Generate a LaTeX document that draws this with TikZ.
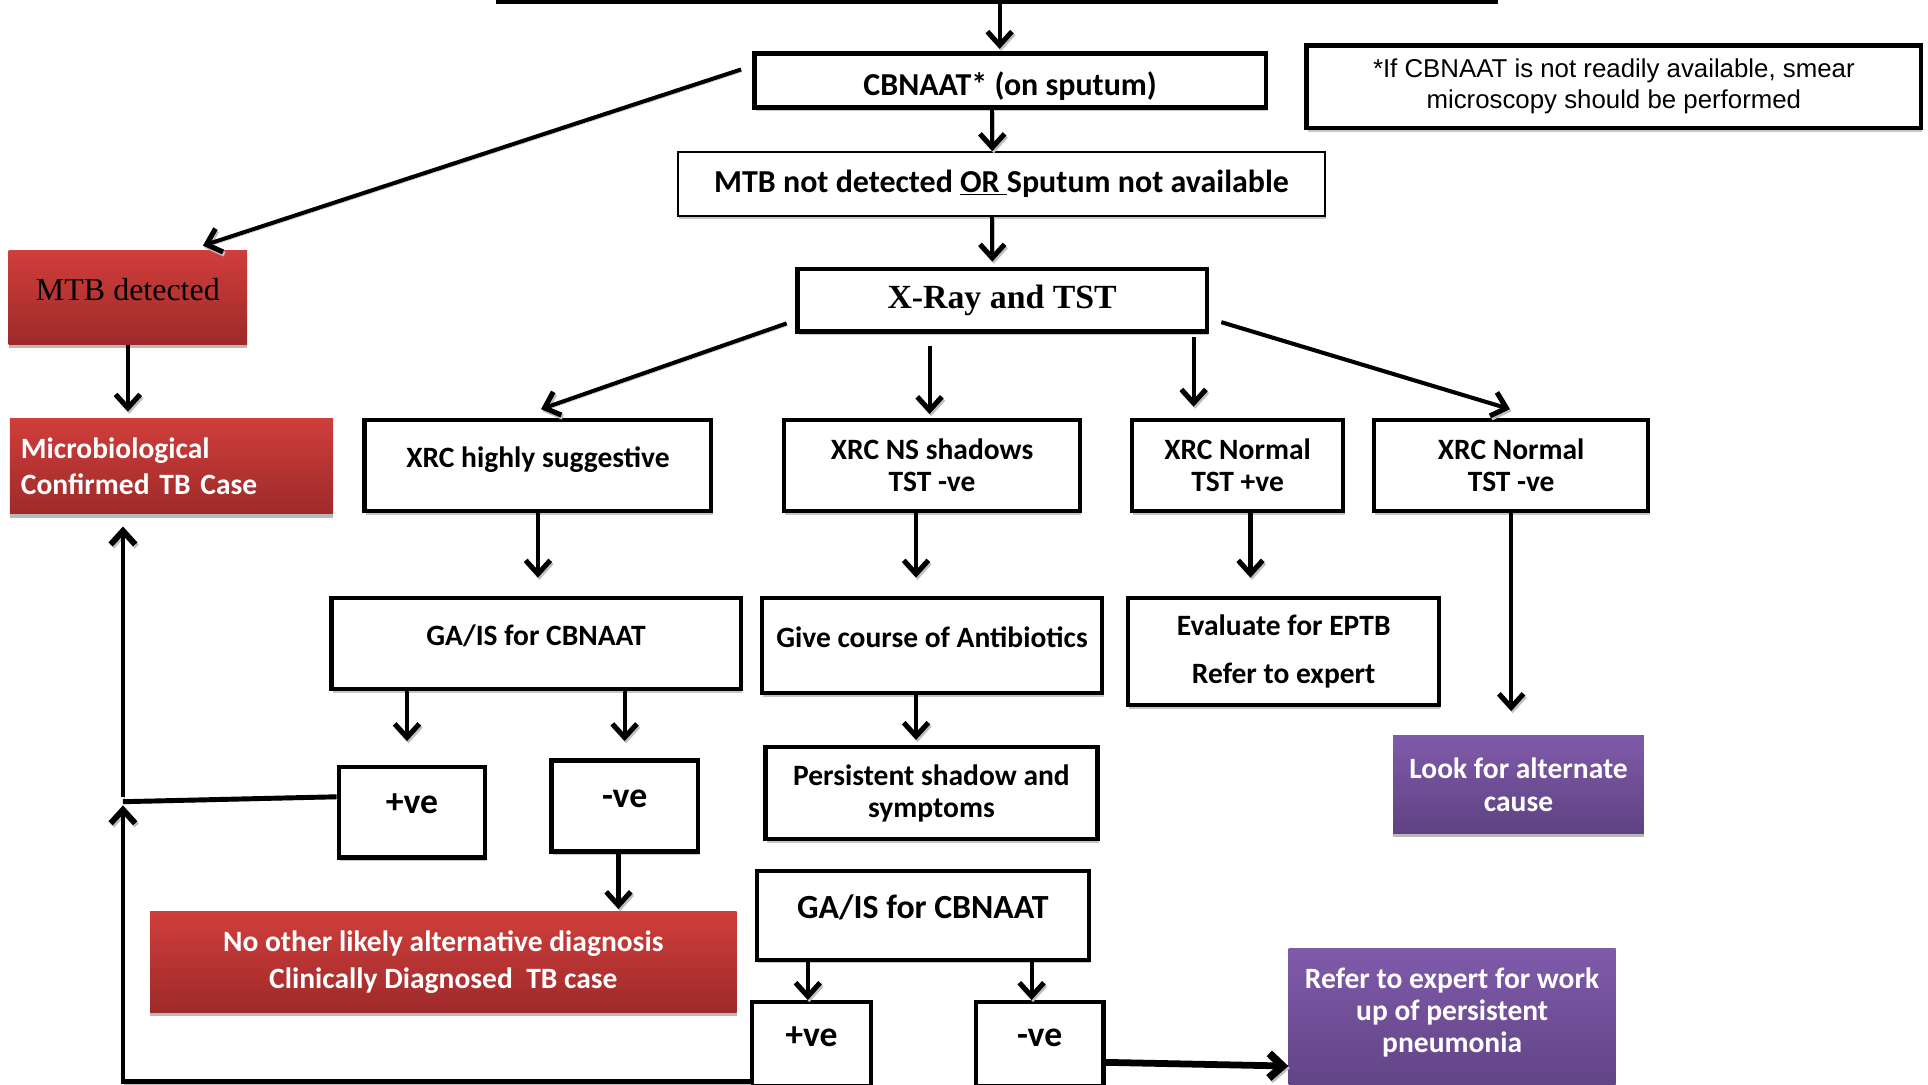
\documentclass[tikz,border=0pt]{standalone}
\usepackage{fontspec}
\setmainfont{Carlito}
\newfontfamily\cambriaf{Liberation Serif}
\newfontfamily\arialf{Liberation Sans}
\usetikzlibrary{arrows.meta, calc, shadows}

\definecolor{redtop}{RGB}{207,62,59}
\definecolor{redbot}{RGB}{158,42,42}
\definecolor{purtop}{RGB}{128,90,170}
\definecolor{purbot}{RGB}{94,66,130}

\tikzset{
  sz/.style 2 args={minimum width=#1pt, minimum height=#2pt},
  lift/.style={text height=#1pt, text depth=0pt},
  box/.style={draw, line width=3.5pt, fill=white, inner sep=0pt, align=center,
    font=\bfseries\fontsize{24}{26}\selectfont,
    drop shadow={shadow xshift=1pt, shadow yshift=-3pt, fill=gray!45, opacity=1}},
  thinbox/.style={box, line width=1.2pt, font=\bfseries\fontsize{26}{28}\selectfont},
  redbox/.style={top color=redtop, bottom color=redbot, draw=none, inner sep=0pt,
    align=center, text=white, font=\bfseries\fontsize{24}{30}\selectfont,
    drop shadow={shadow xshift=0pt, shadow yshift=-3pt, fill=gray!55, opacity=1}},
  purplebox/.style={redbox, top color=purtop, bottom color=purbot,
    font=\bfseries\fontsize{24}{26.5}\selectfont},
  bigtxt/.style={font=\bfseries\fontsize{29}{30}\selectfont, lift=2.6},
  arr/.style={line width=3.3pt, -{Straight Barb[length=11pt, width=20pt, line width=0.8pt 1]},
    preaction={draw=gray!50, transform canvas={shift={(1.2pt,-1.8pt)}}}},
  loopline/.style={line width=4pt,
    preaction={draw=gray!50, transform canvas={shift={(1.2pt,-1.8pt)}}}},
}

\begin{document}
\begin{tikzpicture}[x=1pt, y=-1pt]
  \useasboundingbox (0,0) rectangle (1568,882);
  \clip (0,0) rectangle (1568,882);

  % box above, cut off
  \coordinate (topL) at (403,1.5);
  \coordinate (topR) at (1218,1.5);
  \draw[line width=3.5pt] (topL) -- (topR);

  % top column
  \node[box, sz={416}{44}, lift=24.8, font=\bfseries\fontsize{26}{28}\selectfont] (cbnaat) at (821.5,65.5) {CBNAAT* (on sputum)};
  \node[box, sz={500}{67}, font=\arialf\fontsize{21}{25}\selectfont] (note) at (1312.5,70.5)
    {*If CBNAAT is not readily available, smear\\microscopy should be performed};
  \node[thinbox, sz={526}{52}] (notdet) at (814.5,149.5) {MTB not detected \underline{OR\ }Sputum not available};
  \node[box, sz={333}{51}, font=\cambriaf\bfseries\fontsize{27.5}{30}\selectfont] (xray) at (815,244) {X-Ray and TST};

  % microbiological branch
  \node[redbox, sz={194}{76}, lift=5.2, text=black, font=\cambriaf\fontsize{26}{28}\selectfont] (mtbdet) at (104,242) {MTB detected};
  \node[redbox, sz={263}{78}, align=left, text width=245pt, font=\bfseries\fontsize{24}{29}\selectfont] (micro) at (139.5,379)
    {Microbiological\\Confirmed TB Case};

  % x-ray results
  \node[box, sz={282}{74}, lift=3.4] (xrchigh) at (437.5,378.5) {XRC highly suggestive};
  \node[box, sz={241}{74}] (xrcns) at (758,378.5) {XRC NS shadows\\TST -ve};
  \node[box, sz={172}{74}] (xrcpos) at (1006.5,378.5) {XRC Normal\\TST +ve};
  \node[box, sz={223}{74}] (xrcneg) at (1229,378.5) {XRC Normal\\TST -ve};

  % third row
  \node[box, sz={333}{74}, lift=2.4] (gais) at (436,523.5) {GA/IS for CBNAAT};
  \node[box, sz={277}{77}, lift=3.4] (course) at (758,525) {Give course of Antibiotics};
  \node[box, sz={253}{87}, font=\bfseries\fontsize{24}{39}\selectfont] (eptb) at (1044,530) {Evaluate for EPTB\\Refer to expert};
  \node[purplebox, sz={204}{79}] (altcause) at (1235,638) {Look for alternate\\cause};

  % results of GA/IS
  \node[box, bigtxt, sz={119}{74}] (pos) at (335,660.5) {+ve};
  \node[box, bigtxt, sz={119}{74}] (neg) at (508,655.5) {-ve};
  \node[box, sz={270}{75}] (persist) at (757.5,645) {Persistent shadow and\\symptoms};
  \node[redbox, sz={477}{82}] (clinical) at (360.5,782.5)
    {No other likely alternative diagnosis\\Clinically Diagnosed\ \ TB case};

  % second GA/IS
  \node[box, sz={270}{72}, lift=4.8, font=\bfseries\fontsize{27.5}{30}\selectfont] (gais2) at (750.5,744.5) {GA/IS for CBNAAT};
  \node[box, bigtxt, sz={97}{68}, lift=3.6] (pos2) at (660,849) {+ve};
  \node[box, bigtxt, sz={104}{68}, lift=3.6] (neg2) at (845.5,849) {-ve};
  \node[purplebox, sz={266}{124}, font=\bfseries\fontsize{24}{26}\selectfont] (pneum) at (1181,833)
    {Refer to expert for work\\up of persistent\\pneumonia\\[-3pt]\mbox{}};

  % arrows, top column
  \draw[arr] ($(cbnaat.north |- topL)+(-8.5,0)$) -- ($(cbnaat.north)+(-8.5,-2)$);
  \draw[arr] ($(cbnaat.south)+(-14.5,0)$) -- ($(notdet.north)+(-7.5,0)$);
  \draw[arr] ($(notdet.south)+(-7.5,0)$) -- ($(xray.north)+(-8,-4)$);
  \draw[arr] ($(cbnaat.west)+(-9,-9)$) -- ($(mtbdet.north)+(61,-4)$);
  \draw[arr, shorten >=5pt] (mtbdet.south) -- (mtbdet.south |- micro.north);

  % arrows out of x-ray
  \draw[arr] ($(xray.west)+(-7,19)$) -- ($(xrchigh.north)+(2.5,-7)$);
  \draw[arr] ($(xrcns.north |- xray.south)+(-2,10)$) -- ($(xrcns.north)+(-2,-3)$);
  \draw[arr] ($(xray.south east)+(-12.5,3)$) -- ($(xray.south east |- xrcpos.north)+(-12.5,-9)$);
  \draw[arr] ($(xray.east)+(10,18)$) -- ($(xrcneg.north)+(-1,-7)$);

  % arrows to third row
  \draw[arr, shorten >=15pt] (xrchigh.south) -- (xrchigh.south |- gais.north);
  \draw[arr, shorten >=15pt] ($(xrcns.south)+(-13,0)$) -- ($(xrcns.south |- course.north)+(-13,0)$);
  \draw[arr, shorten >=15pt] ($(xrcpos.south)+(10.5,0)$) -- ($(xrcpos.south |- eptb.north)+(10.5,0)$);
  \draw[arr, shorten >=20pt] (xrcneg.south) -- (xrcneg.south |- altcause.north);

  % arrows to results
  \draw[arr, shorten >=19pt] ($(gais.south -| pos.north)+(-4,0)$) -- ($(pos.north)+(-4,0)$);
  \draw[arr, shorten >=14pt] (gais.south -| neg.north) -- (neg.north);
  \draw[arr, shorten >=4pt] ($(course.south)+(-13,0)$) -- ($(course.south |- persist.north)+(-13,0)$);
  \draw[arr, shorten >=2pt] ($(neg.south)+(-5,0)$) -- ($(neg.south |- clinical.north)+(-5,0)$);

  % back to confirmed case
  \coordinate (jn) at (100,652);
  \draw[loopline] ($(pos.west)+(0,-12.5)$) -- (jn);
  \draw[arr, line width=4pt, shorten >=10pt] ($(jn)+(0,-4)$) -- (jn |- micro.south);
  \draw[arr, line width=4pt, shorten >=3pt] ($(pos2.south west)+(0,-5)$) -| (jn);

  % arrows out of second GA/IS
  \draw[arr] ($(gais2.south -| pos2.north)+(-3,0)$) -- ($(pos2.north)+(-3,0)$);
  \draw[arr] ($(gais2.south -| neg2.north)+(-6.5,0)$) -- ($(neg2.north)+(-6.5,0)$);
  \draw[arr, line width=5.5pt] ($(neg2.east)+(0,15)$) -- ($(pneum.west)+(0,34)$);
\end{tikzpicture}
\end{document}
